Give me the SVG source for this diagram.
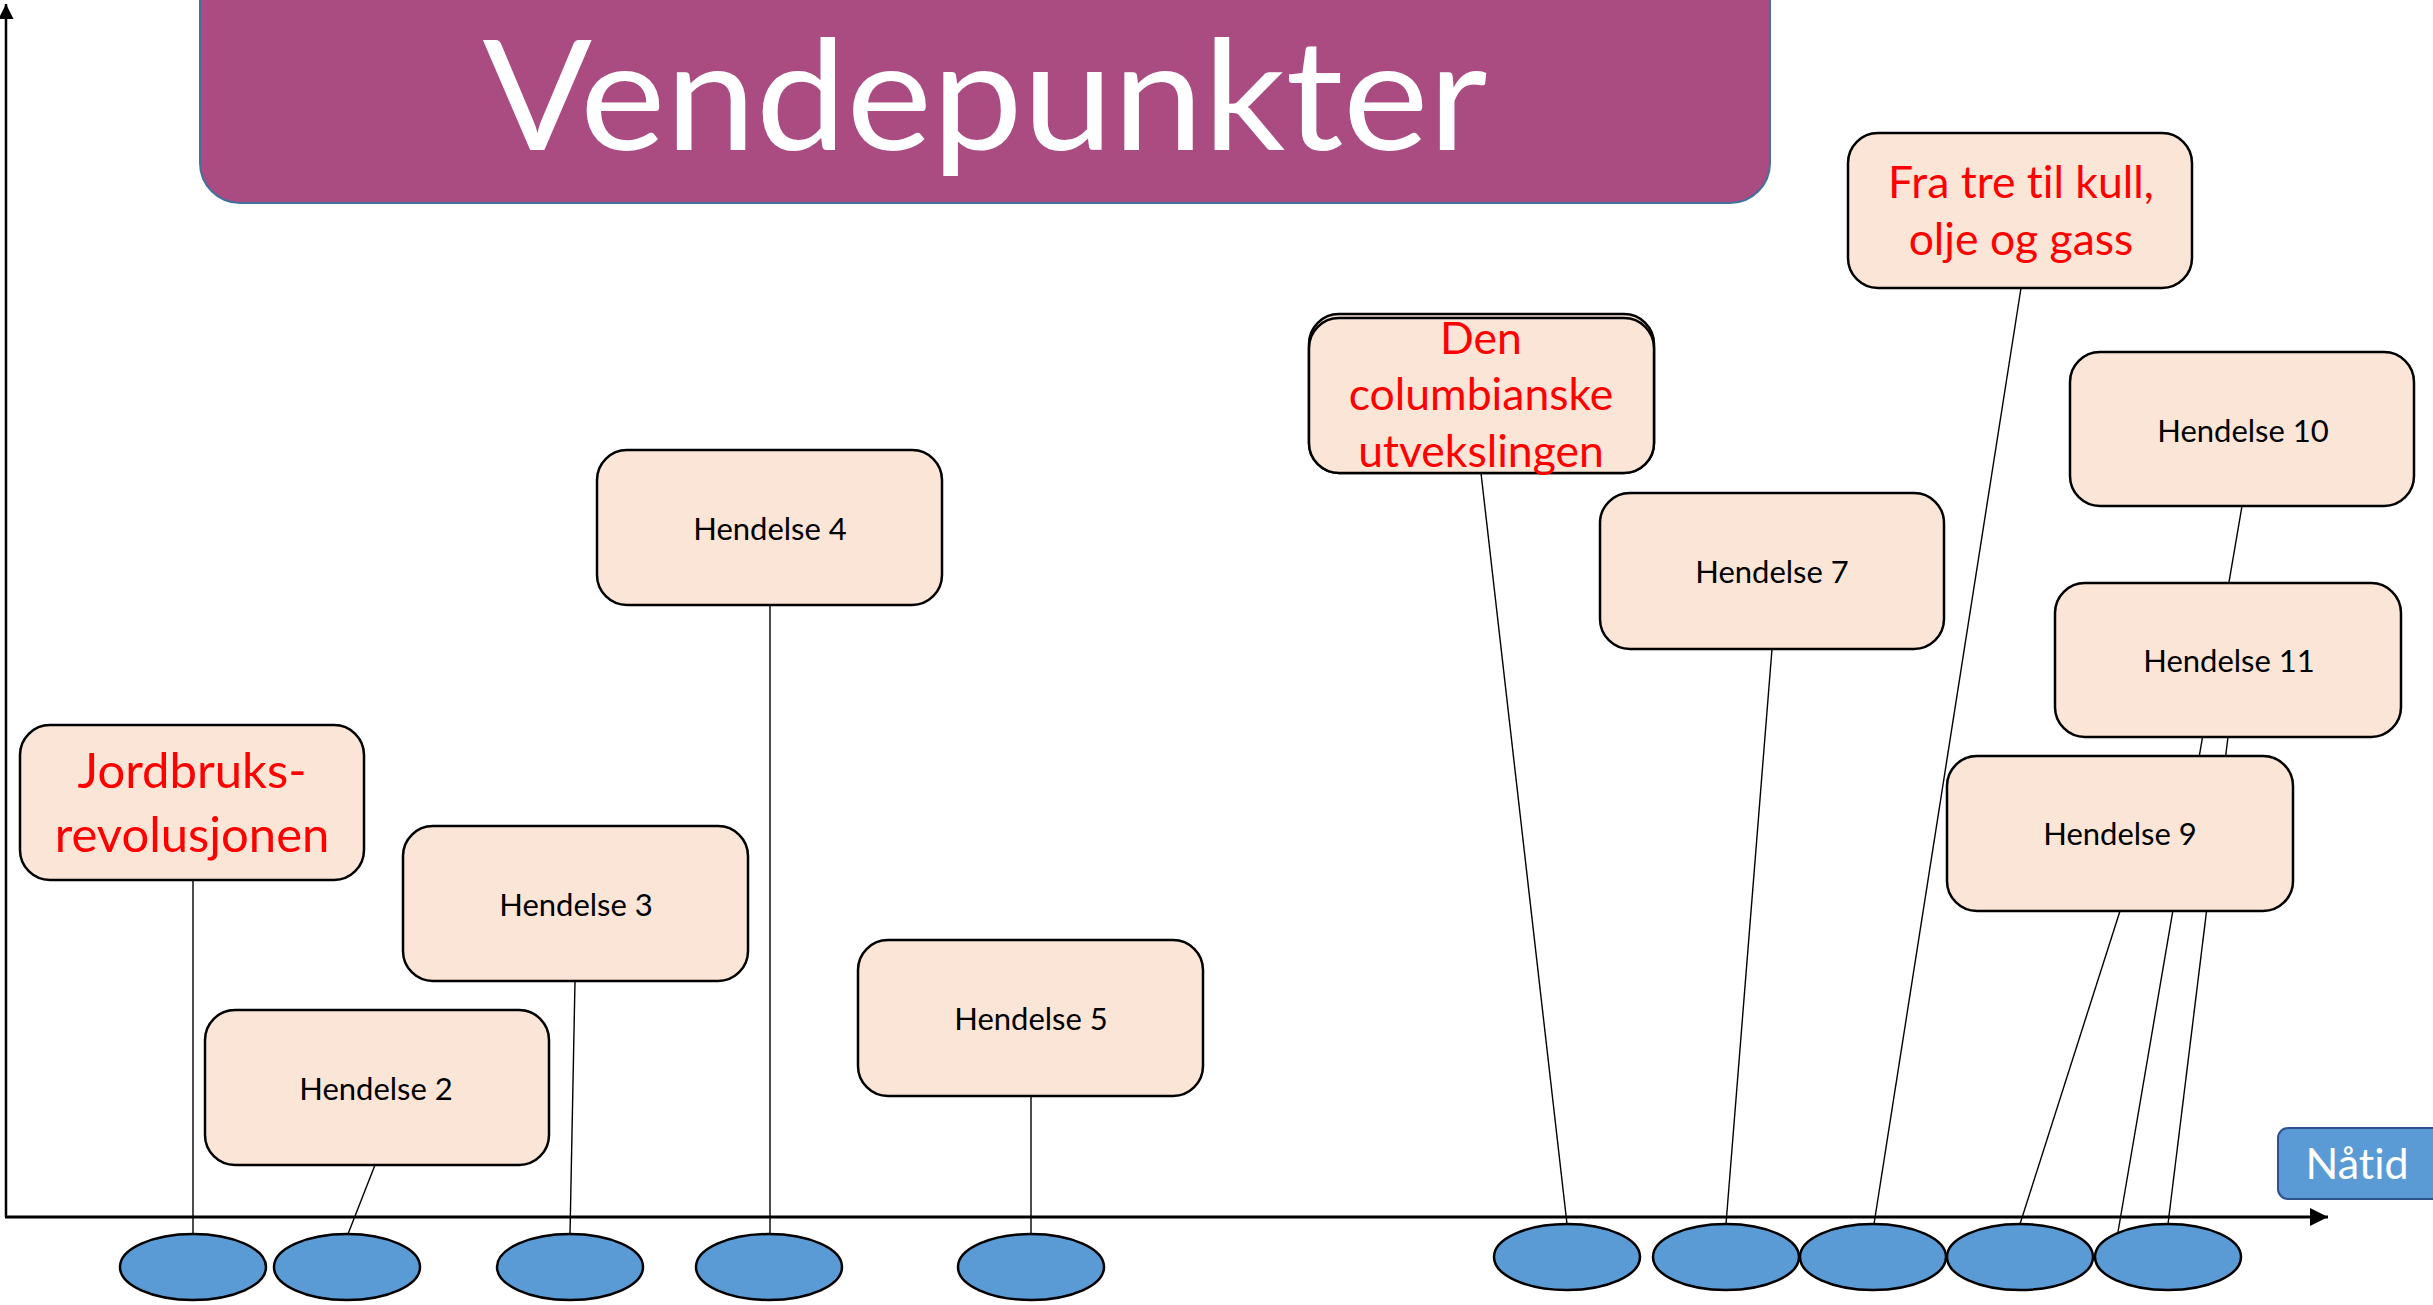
<svg xmlns="http://www.w3.org/2000/svg" width="2433" height="1305" viewBox="0 0 2433 1305">
<style>
text{font-variant-ligatures:none;font-feature-settings:"liga" 0}
.box{fill:#FBE5D6;stroke:#000;stroke-width:2.5}
.dot{fill:#5B9BD5;stroke:#000;stroke-width:2.5}
.con{stroke:#000;stroke-width:1.4;fill:none}
.lbl{font-family:Lato,"Open Sans",sans-serif;font-size:31px;fill:#000;text-anchor:middle}
.red{font-family:Lato,"Open Sans",sans-serif;fill:#FF0000;text-anchor:middle}
</style>
<defs>
<marker id="ah" viewBox="0 0 10 10" refX="10" refY="5" markerWidth="6" markerHeight="6" orient="auto" markerUnits="strokeWidth"><path d="M0,0 L10,5 L0,10 z" fill="#000"/></marker>
</defs>
<rect width="2433" height="1305" fill="#fff"/>
<g id="title">
<rect x="200" y="-40" width="1570" height="243" rx="40" ry="40" fill="#AA4B82" stroke="#41719C" stroke-width="2"/>
<text x="985" y="150" font-family="Lato,'Open Sans',sans-serif" font-size="153" fill="#fff" text-anchor="middle" textLength="1005" lengthAdjust="spacingAndGlyphs">Vendepunkter</text>
</g>
<g id="axes">
<line x1="6" y1="1217" x2="6" y2="4" stroke="#000" stroke-width="2.5" marker-end="url(#ah)"/>
<line x1="5" y1="1217" x2="2328" y2="1217" stroke="#000" stroke-width="3" marker-end="url(#ah)"/>
</g>
<g id="dots">
<ellipse class="dot" cx="193" cy="1267" rx="73" ry="33"/>
<ellipse class="dot" cx="347" cy="1267" rx="73" ry="33"/>
<ellipse class="dot" cx="570" cy="1267" rx="73" ry="33"/>
<ellipse class="dot" cx="769" cy="1267" rx="73" ry="33"/>
<ellipse class="dot" cx="1031" cy="1267" rx="73" ry="33"/>
<ellipse class="dot" cx="1567" cy="1257" rx="73" ry="33"/>
<ellipse class="dot" cx="1726" cy="1257" rx="73" ry="33"/>
<ellipse class="dot" cx="1873" cy="1257" rx="73" ry="33"/>
<ellipse class="dot" cx="2020" cy="1257" rx="73" ry="33"/>
<ellipse class="dot" cx="2168" cy="1257" rx="73" ry="33"/>
</g>
<g id="connectors">
<line class="con" x1="193" y1="880" x2="193" y2="1234"/>
<line class="con" x1="375" y1="1165" x2="348" y2="1234"/>
<line class="con" x1="575" y1="981" x2="570" y2="1234"/>
<line class="con" x1="770" y1="605" x2="770" y2="1234"/>
<line class="con" x1="1031" y1="1096" x2="1031" y2="1234"/>
<line class="con" x1="1481" y1="473" x2="1567" y2="1224"/>
<line class="con" x1="1772" y1="649" x2="1726" y2="1224"/>
<line class="con" x1="2021" y1="288" x2="1874" y2="1224"/>
<line class="con" x1="2120" y1="911" x2="2020" y2="1224"/>
<line class="con" x1="2242" y1="506" x2="2118" y2="1232"/>
<line class="con" x1="2228" y1="737" x2="2168" y2="1224"/>
</g>
<g id="n-jordbruk">
<rect class="box" x="20" y="725" width="344" height="155" rx="30"/>
<text class="red" x="192" y="788" font-size="49">Jordbruks-</text>
<text class="red" x="192" y="852" font-size="49">revolusjonen</text>
</g>
<g id="n-h2">
<rect class="box" x="205" y="1010" width="344" height="155" rx="30"/>
<text class="lbl" x="376" y="1100">Hendelse 2</text>
</g>
<g id="n-h3">
<rect class="box" x="403" y="826" width="345" height="155" rx="30"/>
<text class="lbl" x="576" y="916">Hendelse 3</text>
</g>
<g id="n-h4">
<rect class="box" x="597" y="450" width="345" height="155" rx="30"/>
<text class="lbl" x="770" y="540">Hendelse 4</text>
</g>
<g id="n-h5">
<rect class="box" x="858" y="940" width="345" height="156" rx="30"/>
<text class="lbl" x="1031" y="1030">Hendelse 5</text>
</g>
<g id="n-columbiansk">
<rect class="box" x="1309" y="314" width="345" height="159" rx="30"/>
<rect class="box" x="1309" y="318" width="345" height="155" rx="30"/>
<text class="red" x="1481" y="354" font-size="44.5">Den</text>
<text class="red" x="1481" y="410" font-size="44.5">columbianske</text>
<text class="red" x="1481" y="467" font-size="44.5">utvekslingen</text>
</g>
<g id="n-h7">
<rect class="box" x="1600" y="493" width="344" height="156" rx="30"/>
<text class="lbl" x="1772" y="583">Hendelse 7</text>
</g>
<g id="n-fratre">
<rect class="box" x="1848" y="133" width="344" height="155" rx="30"/>
<text class="red" x="2021" y="198" font-size="44.5">Fra tre til kull,</text>
<text class="red" x="2021" y="255" font-size="44.5">olje og gass</text>
</g>
<g id="n-h10">
<rect class="box" x="2070" y="352" width="344" height="154" rx="30"/>
<text class="lbl" x="2243" y="442">Hendelse 10</text>
</g>
<g id="n-h11">
<rect class="box" x="2055" y="583" width="346" height="154" rx="30"/>
<text class="lbl" x="2229" y="672">Hendelse 11</text>
</g>
<g id="n-h9">
<rect class="box" x="1947" y="756" width="346" height="155" rx="30"/>
<text class="lbl" x="2120" y="845">Hendelse 9</text>
</g>
<g id="n-natid">
<rect x="2278" y="1128" width="170" height="71" rx="10" fill="#5B9BD5" stroke="#2F528F" stroke-width="2"/>
<text x="2357" y="1179" font-family="Lato,'Open Sans',sans-serif" font-size="43" fill="#fff" text-anchor="middle">Nåtid</text>
</g>
</svg>
